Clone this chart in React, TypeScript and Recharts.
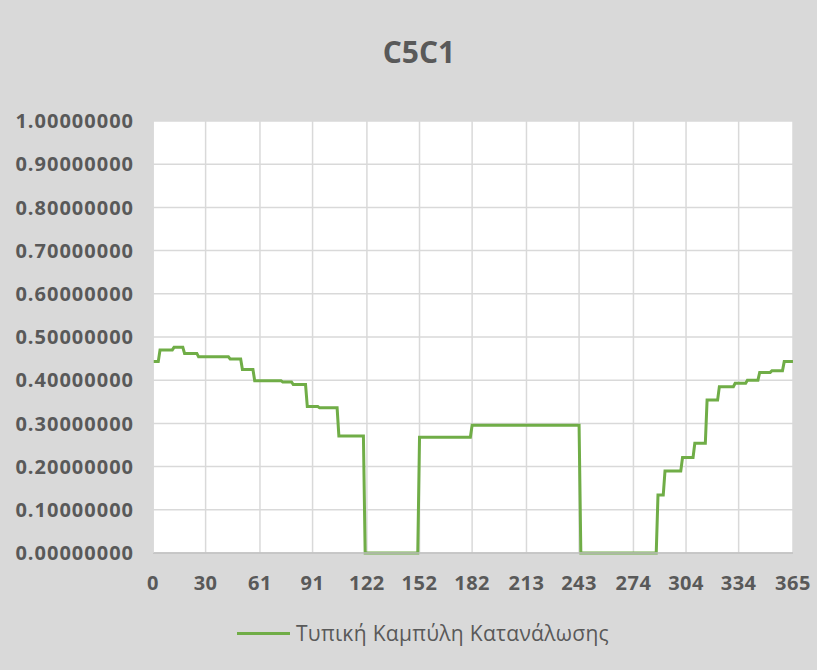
import React from "react";
import { LineChart, Line, XAxis, YAxis, CartesianGrid } from "recharts";

const title = "C5C1";
const seriesName = "Τυπική Καμπύλη Κατανάλωσης";

// Day on which each step of the curve begins, and the value held from that day on
const stepDays = [0, 4, 12, 18, 26, 44, 51, 58, 74, 80, 88, 95, 106, 121, 152, 182, 244, 288, 292, 302, 309, 316, 323, 332, 339, 346, 353, 360];
const stepValues = [0.443, 0.47, 0.476, 0.462, 0.454, 0.449, 0.425, 0.399, 0.396, 0.39, 0.339, 0.336, 0.271, 0, 0.268, 0.296, 0, 0.134, 0.19, 0.221, 0.254, 0.354, 0.385, 0.393, 0.4, 0.418, 0.422, 0.443];
const lastDay = 365;

const xTicks = [0, 30, 61, 91, 122, 152, 182, 213, 243, 274, 304, 334, 365];
const yTicks = [0, 0.1, 0.2, 0.3, 0.4, 0.5, 0.6, 0.7, 0.8, 0.9, 1.0];

const data: { day: number; value: number }[] = [];
stepDays.forEach((d, i) => {
  const end = i + 1 < stepDays.length ? stepDays[i + 1] - 1 : lastDay;
  data.push({ day: d, value: stepValues[i] });
  if (end > d) data.push({ day: end, value: stepValues[i] });
});

const FONT = "'Open Sans', 'Liberation Sans', sans-serif";
const TEXT = "#595959";

export default function App() {
  return (
    <div style={{ position: "absolute", left: 0, top: 0, width: 817, height: 670, background: "#d9d9d9", fontFamily: FONT }}>
      <div style={{ position: "absolute", left: 0, width: 838, top: 31, textAlign: "center", fontSize: 30, fontWeight: 700, color: TEXT, lineHeight: "42px" }}>
        {title}
      </div>
      <LineChart width={817} height={670} data={data} margin={{ top: 121, right: 24, bottom: 77, left: 0 }}>
        <CartesianGrid stroke="#d9d9d9" strokeWidth={1.5} fill="#ffffff" />
        <XAxis
          dataKey="day"
          type="number"
          domain={[0, lastDay]}
          ticks={xTicks}
          interval={0}
          tickLine={false}
          axisLine={{ stroke: "#bfbfbf", strokeWidth: 1.5 }}
          tickSize={0}
          tickMargin={23}
          height={40}
          tick={{ fill: TEXT, fontSize: 20, fontWeight: 700, fontFamily: FONT, letterSpacing: 0.5 }}
        />
        <YAxis
          type="number"
          domain={[0, 1]}
          ticks={yTicks}
          interval={0}
          width={153}
          tickLine={false}
          axisLine={{ stroke: "#d9d9d9", strokeWidth: 1.5 }}
          tickSize={0}
          tickMargin={19}
          tickFormatter={(v: number) => v.toFixed(8)}
          tick={{ fill: TEXT, fontSize: 20, fontWeight: 700, fontFamily: FONT, letterSpacing: 1 }}
        />
        <Line
          type="linear"
          dataKey="value"
          name={seriesName}
          stroke="#70ad47"
          strokeWidth={3}
          dot={false}
          isAnimationActive={false}
        />
      </LineChart>
      <div style={{ position: "absolute", left: 237, top: 619, height: 28, display: "flex", alignItems: "center", color: TEXT, fontSize: 21, letterSpacing: 0.3 }}>
        <span style={{ display: "inline-block", width: 53, height: 3, background: "#70ad47", marginRight: 6 }} />
        <span>{seriesName}</span>
      </div>
    </div>
  );
}
